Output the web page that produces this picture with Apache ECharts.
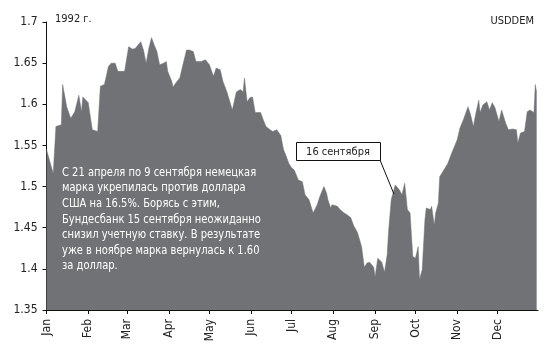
<!DOCTYPE html>
<html><head><meta charset="utf-8">
<script src="https://cdn.jsdelivr.net/npm/echarts@6/dist/echarts.min.js"></script>
<style>html,body{margin:0;padding:0;background:#fff}#c{width:550px;height:356px}</style>
</head><body><div id="c"></div>
<script>
const dates = [
'1992-01-01','1992-01-06','1992-01-08','1992-01-12','1992-01-13','1992-01-16','1992-01-19','1992-01-22','1992-01-25','1992-01-27','1992-01-28',
'1992-02-01','1992-02-04','1992-02-08','1992-02-10','1992-02-13','1992-02-16','1992-02-18','1992-02-21','1992-02-23','1992-02-28',
'1992-03-02','1992-03-05','1992-03-07','1992-03-11','1992-03-13','1992-03-15','1992-03-17','1992-03-19','1992-03-21','1992-03-23','1992-03-25','1992-03-28','1992-03-30','1992-03-31',
'1992-04-03','1992-04-04','1992-04-06','1992-04-09','1992-04-11','1992-04-14','1992-04-16','1992-04-19','1992-04-21','1992-04-25','1992-04-28',
'1992-05-01','1992-05-04','1992-05-06','1992-05-09','1992-05-11','1992-05-14','1992-05-18','1992-05-21','1992-05-24','1992-05-26','1992-05-27','1992-05-29','1992-05-31',
'1992-06-02','1992-06-04','1992-06-08','1992-06-10','1992-06-12','1992-06-15','1992-06-17','1992-06-20','1992-06-23','1992-06-25','1992-06-27','1992-06-29',
'1992-07-01','1992-07-03','1992-07-06','1992-07-09','1992-07-11','1992-07-14','1992-07-17','1992-07-20','1992-07-22','1992-07-25','1992-07-27','1992-07-28','1992-07-30','1992-07-31',
'1992-08-04','1992-08-06','1992-08-09','1992-08-11','1992-08-14','1992-08-16','1992-08-19','1992-08-22','1992-08-24','1992-08-26','1992-08-28','1992-08-31',
'1992-09-01','1992-09-03','1992-09-06','1992-09-08','1992-09-10','1992-09-11','1992-09-13','1992-09-15','1992-09-16','1992-09-19','1992-09-21','1992-09-23','1992-09-25','1992-09-27','1992-09-29',
'1992-10-01','1992-10-03','1992-10-04','1992-10-06','1992-10-08','1992-10-09','1992-10-12','1992-10-13','1992-10-15','1992-10-16','1992-10-18','1992-10-19','1992-10-20','1992-10-25','1992-10-28',
'1992-11-01','1992-11-03','1992-11-06','1992-11-09','1992-11-11','1992-11-13','1992-11-15','1992-11-17','1992-11-18','1992-11-20','1992-11-23','1992-11-25','1992-11-27','1992-11-29',
'1992-12-02','1992-12-04','1992-12-07','1992-12-09','1992-12-12','1992-12-15','1992-12-16','1992-12-18','1992-12-21','1992-12-23','1992-12-25','1992-12-28','1992-12-29','1992-12-30'
];
const usddem = [
1.545,1.516,1.573,1.575,1.624,1.597,1.583,1.591,1.611,1.591,1.609,
1.602,1.569,1.567,1.622,1.624,1.646,1.650,1.650,1.640,1.640,
1.670,1.667,1.668,1.676,1.666,1.650,1.668,1.681,1.672,1.664,1.648,1.650,1.652,1.640,
1.628,1.621,1.626,1.632,1.646,1.666,1.666,1.664,1.652,1.652,1.654,
1.648,1.634,1.644,1.642,1.628,1.615,1.593,1.615,1.618,1.615,1.632,1.603,1.608,
1.609,1.590,1.590,1.581,1.573,1.569,1.567,1.569,1.562,1.545,1.537,1.528,
1.523,1.520,1.508,1.506,1.490,1.484,1.468,1.478,1.488,1.500,1.492,1.484,1.474,1.478,
1.476,1.472,1.468,1.466,1.462,1.453,1.444,1.427,1.402,1.407,1.408,1.402,
1.390,1.413,1.408,1.396,1.417,1.445,1.484,1.496,1.502,1.496,1.490,1.504,1.472,1.468,1.415,
1.413,1.427,1.387,1.399,1.459,1.474,1.472,1.476,1.453,1.468,1.480,1.512,1.514,1.528,1.541,
1.557,1.571,1.583,1.597,1.587,1.573,1.590,1.605,1.590,1.599,1.603,1.593,1.602,1.596,
1.579,1.593,1.577,1.569,1.570,1.569,1.553,1.565,1.567,1.591,1.593,1.590,1.624,1.614
];
const monthLabels = ['Jan','Feb','Mar','Apr','May','Jun','Jul','Aug','Sep','Oct','Nov','Dec'];
const yearLabel = '1992 г.';
const seriesName = 'USDDEM';
const calloutLabel = '16 сентября';
const calloutPoint = ['1992-09-15', 1.491];
const noteLines = [
'С 21 апреля по 9 сентября немецкая',
'марка укрепилась против доллара',
'США на 16.5%. Борясь с этим,',
'Бундесбанк 15 сентября неожиданно',
'снизил учетную ставку. В результате',
'уже в ноябре марка вернулась к 1.60',
'за доллар.'
];

const FONT = '"Liberation Sans Narrow","DejaVu Sans Condensed",sans-serif';
const chart = echarts.init(document.getElementById('c'), null, {renderer:'canvas'});
const DAY = 86400000;
chart.setOption({
  animation:false,
  backgroundColor:'#fff',
  grid:{left:46.5,right:12,top:22,bottom:46},
  xAxis:{
    type:'time',
    min:'1992-01-01', max:'1992-12-31',
    splitNumber:12, minInterval:28*DAY, maxInterval:31*DAY,
    axisLine:{lineStyle:{color:'#111',width:1}},
    axisTick:{show:true,length:4,lineStyle:{color:'#111'}},
    splitLine:{show:false},
    axisLabel:{rotate:90,margin:9,color:'#222',fontSize:12,fontFamily:FONT,
      formatter:function(v){return monthLabels[new Date(v).getMonth()];}}
  },
  yAxis:{
    type:'value',min:1.35,max:1.7,interval:0.05,
    axisLine:{show:true,lineStyle:{color:'#111',width:1}},
    axisTick:{show:true,length:4,lineStyle:{color:'#111'}},
    splitLine:{show:false},
    axisLabel:{margin:9,color:'#222',fontSize:12,fontFamily:FONT}
  },
  series:[{
    type:'line',name:seriesName,
    data:dates.map((d,i)=>[d,usddem[i]]),
    showSymbol:false,
    lineStyle:{width:0.5,color:'#717276'},
    areaStyle:{color:'#717276',opacity:1,origin:'start'},
    z:1
  }]
});

const p = chart.convertToPixel({gridIndex:0}, calloutPoint);
const boxX = 296, boxY = 142, boxW = 84, boxH = 18;
const textEls = noteLines.map((t,i)=>({
  type:'text', x:62, y:166+i*15.6, z:20, scaleX:0.85,
  style:{text:t,fill:'#fff',font:'13px '+FONT}
}));
chart.setOption({
  graphic:[
    {type:'text',left:55,top:14,style:{text:yearLabel,fill:'#222',font:'11px '+FONT}},
    {type:'text',right:16,top:16,style:{text:seriesName,fill:'#222',font:'11px '+FONT}},
    {type:'line',shape:{x1:boxX+boxW,y1:boxY+boxH,x2:p[0],y2:p[1]},style:{stroke:'#111',lineWidth:1},z:10},
    {type:'rect',shape:{x:boxX+0.5,y:boxY+0.5,width:boxW,height:boxH},style:{fill:'#fff',stroke:'#111',lineWidth:1},z:10},
    {type:'text',x:boxX+boxW/2,y:boxY+boxH/2+1,style:{text:calloutLabel,fill:'#222',font:'11px '+FONT,align:'center',verticalAlign:'middle'},z:11}
  ].concat(textEls)
});
</script></body></html>
